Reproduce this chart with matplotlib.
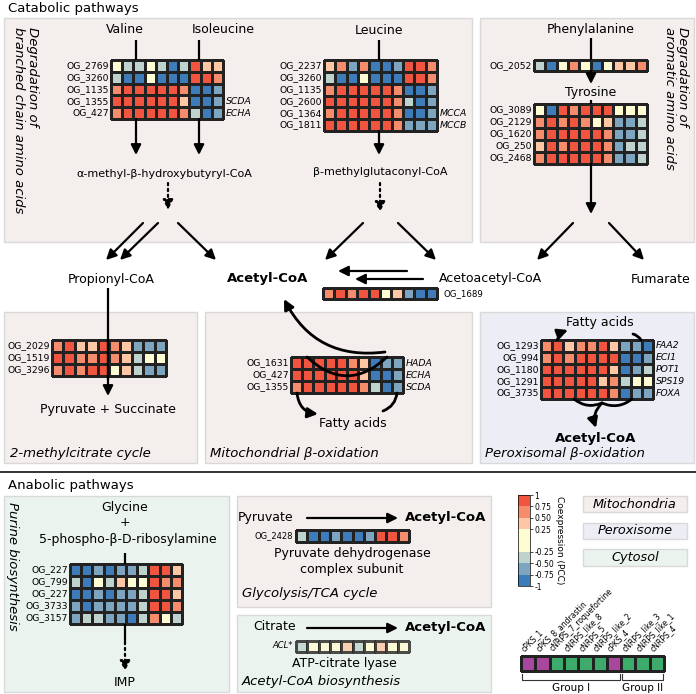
import numpy as np
import matplotlib
matplotlib.use('Agg')
import matplotlib.pyplot as plt
from matplotlib.colors import ListedColormap, BoundaryNorm
from matplotlib.patches import Rectangle
import matplotlib.colorbar as mcolorbar

# coexpression colour classes (PCC bins)
pcc_bounds = [-1, -0.75, -0.5, -0.25, 0.25, 0.5, 0.75, 1]
pcc_colors = ['#3d7cb8', '#7da5c0', '#bed3cd', '#fefcd2', '#fdc6a4', '#f58c6c', '#f2553f']
pcc_ticklabels = ['-1', '-0.75', '-0.50', '-0.25', '0.25', '0.50', '0.75', '1']

# branched chain amino acids
valine_rows = ['OG_2769', 'OG_3260', 'OG_1135', 'OG_1355', 'OG_427']
valine_pcc = [
    [0.0, -0.4, -0.4, 0.0, -0.4, -0.85, -0.4, 0.85, 0.45, 0.4],
    [-0.4, -0.85, -0.85, 0.0, -0.85, -0.85, -0.85, 0.85, 0.85, 0.6],
    [0.6, 0.85, 0.85, 0.85, 0.85, 0.85, 0.6, -0.85, -0.85, -0.6],
    [0.85, 0.85, 0.85, 0.85, 0.85, 0.85, 0.4, -0.85, -0.85, -0.6],
    [0.6, 0.85, 0.85, 0.85, 0.85, 0.85, 0.6, -0.4, -0.85, -0.6],
]
leucine_rows = ['OG_2237', 'OG_3260', 'OG_1135', 'OG_2600', 'OG_1364', 'OG_1811']
leucine_pcc = [
    [0.4, 0.6, -0.6, 0.6, -0.85, -0.85, -0.6, 0.85, 0.85, 0.6],
    [-0.4, -0.85, -0.85, 0.0, -0.85, -0.85, -0.85, 0.85, 0.85, 0.6],
    [0.6, 0.85, 0.85, 0.85, 0.85, 0.85, 0.6, -0.85, -0.85, -0.6],
    [0.85, 0.85, 0.85, 0.85, 0.85, 0.85, 0.6, -0.4, -0.85, -0.6],
    [0.6, 0.85, 0.85, 0.85, 0.85, 0.85, 0.6, -0.85, -0.85, -0.6],
    [0.85, 0.85, 0.85, 0.85, 0.85, 0.85, 0.6, -0.6, -0.6, -0.6],
]
# aromatic amino acids
phe_rows = ['OG_2052']
phe_pcc = [[-0.4, -0.85, 0.0, 0.6, 0.0, -0.85, 0.0, 0.4, 0.4, 0.6]]
tyr_rows = ['OG_3089', 'OG_2129', 'OG_1620', 'OG_250', 'OG_2468']
tyr_pcc = [
    [0.0, -0.85, 0.85, 0.6, 0.85, 0.85, 0.85, 0.0, 0.0, 0.0],
    [0.6, 0.85, 0.6, 0.85, 0.6, 0.0, 0.4, -0.6, -0.6, -0.4],
    [0.6, 0.85, 0.85, 0.85, 0.85, 0.85, 0.6, -0.6, -0.6, -0.4],
    [0.4, 0.85, 0.6, 0.85, 0.85, 0.85, 0.6, -0.6, -0.4, -0.4],
    [0.6, 0.85, 0.85, 0.85, 0.85, 0.85, 0.6, -0.6, -0.6, -0.4],
]
thiolase_pcc = [[0.6, 0.85, 0.6, 0.85, 0.85, 0.0, 0.4, -0.6, -0.85, -0.85]]
mcc_rows = ['OG_2029', 'OG_1519', 'OG_3296']
mcc_pcc = [
    [0.6, 0.85, 0.4, 0.4, 0.85, 0.6, 0.4, -0.6, -0.6, -0.6],
    [0.85, 0.85, 0.6, 0.6, 0.85, 0.6, 0.4, -0.4, 0.0, 0.0],
    [0.6, 0.85, 0.6, 0.85, 0.85, 0.0, 0.4, -0.4, -0.6, -0.6],
]
mito_rows = ['OG_1631', 'OG_427', 'OG_1355']
mito_genes = ['HADA', 'ECHA', 'SCDA']
mito_pcc = [
    [0.85, 0.85, 0.85, 0.85, 0.85, 0.6, 0.4, -0.85, -0.6, -0.6],
    [0.85, 0.85, 0.85, 0.85, 0.85, 0.85, 0.4, -0.85, -0.85, -0.6],
    [0.6, 0.85, 0.85, 0.85, 0.85, 0.85, 0.6, -0.4, -0.85, -0.6],
]
perox_rows = ['OG_1293', 'OG_994', 'OG_1180', 'OG_1291', 'OG_3735']
perox_genes = ['FAA2', 'ECI1', 'POT1', 'SPS19', 'FOXA']
perox_pcc = [
    [0.6, 0.85, 0.4, 0.6, 0.6, 0.85, 0.4, -0.6, -0.6, -0.85],
    [0.6, 0.85, 0.6, 0.85, 0.85, 0.85, 0.85, -0.85, -0.85, -0.6],
    [0.85, 0.85, 0.85, 0.85, 0.85, 0.85, 0.4, -0.85, -0.6, -0.4],
    [0.85, 0.85, 0.85, 0.85, 0.85, 0.4, 0.6, -0.4, 0.0, 0.0],
    [0.85, 0.85, 0.85, 0.85, 0.85, 0.85, 0.6, -0.85, -0.6, -0.6],
]
# anabolic
purine_rows = ['OG_227', 'OG_799', 'OG_227', 'OG_3733', 'OG_3157']
purine_pcc = [
    [-0.85, -0.85, -0.6, -0.85, -0.6, -0.6, -0.4, 0.85, 0.85, 0.4],
    [-0.4, -0.85, 0.0, -0.4, 0.4, 0.0, 0.0, 0.85, 0.6, 0.6],
    [-0.85, -0.85, -0.6, -0.85, -0.6, -0.6, -0.4, 0.85, 0.85, 0.4],
    [-0.6, -0.85, -0.6, -0.6, -0.6, -0.6, -0.4, 0.85, 0.85, 0.6],
    [-0.6, -0.4, -0.4, -0.6, -0.6, -0.85, -0.4, 0.6, 0.0, -0.4],
]
pdh_pcc = [[-0.4, -0.85, -0.85, -0.6, -0.85, -0.85, -0.6, 0.85, 0.85, 0.6]]
acl_pcc = [[-0.4, 0.0, 0.0, 0.0, 0.4, -0.4, 0.0, 0.4, 0.0, 0.0]]

# gene clusters
clusters = ['cPKS_1', 'cPKS_8_andrastin', 'cNRPS_7_roquefortine', 'cNRPS_like_8', 'cNRPS_5',
            'cNRPS_like_2', 'cPKS_4', 'cNRPS_like_3', 'cNRPS_like_1', 'cNRPS_4']
cluster_is_pks = [1, 1, 0, 0, 0, 0, 1, 0, 0, 0]
groups = ['Group I', 'Group II']
group_sizes = [7, 3]

MITO = '#f4eeed'
PEROX = '#ecedf5'
CYTO = '#ebf3ee'

cmap = ListedColormap(pcc_colors)
norm = BoundaryNorm(pcc_bounds, cmap.N)

fig = plt.figure(figsize=(6.96, 6.94), dpi=100)
ax = fig.add_axes([0, 0, 1, 1])
ax.set_xlim(0, 696)
ax.set_ylim(694, 0)
ax.axis('off')


def box(x0, y0, x1, y1, fc):
    ax.add_patch(Rectangle((x0, y0), x1 - x0, y1 - y0, fc=fc, ec='#d9d9d9', lw=1, zorder=0))


def heat(vals, x0, y0, x1, y1, rows=None, genes=None, fs=6.7, alpha=1.0):
    vals = np.asarray(vals)
    nr, nc = vals.shape
    xe = np.linspace(x0, x1, nc + 1)
    ye = np.linspace(y0, y1, nr + 1)
    ax.pcolormesh(xe, ye, vals, cmap=cmap, norm=norm, edgecolors='#222222',
                  linewidth=0.8, alpha=alpha, zorder=3)
    yc = (ye[:-1] + ye[1:]) / 2
    if rows:
        for y, lab in zip(yc, rows):
            ax.text(x0 - 2, y, lab, ha='right', va='center', fontsize=fs)
    if genes:
        for i, g in genes.items():
            ax.text(x1 + 3, yc[i], g, ha='left', va='center', fontsize=fs, style='italic')


def arrow(x0, y0, x1, y1, ls='-', rad=0.0, head=True, lw=1.6):
    style = '-|>,head_length=0.6,head_width=0.3' if head else '-'
    ax.annotate('', xy=(x1, y1), xytext=(x0, y0),
                arrowprops=dict(arrowstyle=style, color='black', lw=lw, linestyle=ls,
                                shrinkA=0, shrinkB=0, mutation_scale=10,
                                connectionstyle='arc3,rad=%s' % rad), zorder=4)


def line(xs, ys, lw=1.6, ls='-'):
    ax.plot(xs, ys, color='black', lw=lw, ls=ls, zorder=4, solid_capstyle='butt')


# ---- catabolic part ----
ax.text(8, 8, 'Catabolic pathways', fontsize=9.5, va='center')
box(4, 18, 472, 242, MITO)
box(480, 18, 694, 242, MITO)
box(4, 312, 197, 463, MITO)
box(205, 312, 472, 463, MITO)
box(480, 312, 694, 463, PEROX)

ax.text(25, 27, 'Degradation of\nbranched chain amino acids', rotation=270, style='italic',
        fontsize=9.5, ha='center', va='top', multialignment='left', linespacing=1.1)
ax.text(676, 27, 'Degradation of\naromatic amino acids', rotation=270, style='italic',
        fontsize=9.5, ha='center', va='top', multialignment='left', linespacing=1.1)

ax.text(125, 29, 'Valine', fontsize=9, ha='center', va='center')
ax.text(223, 29, 'Isoleucine', fontsize=9, ha='center', va='center')
ax.text(379, 30, 'Leucine', fontsize=9, ha='center', va='center')
line([136, 136], [40, 60])
line([199, 199], [40, 60])
line([379, 379], [40, 60])
heat(valine_pcc, 111, 60, 223, 119, valine_rows, {3: 'SCDA', 4: 'ECHA'})
heat(leucine_pcc, 324, 60, 437, 131, leucine_rows, {4: 'MCCA', 5: 'MCCB'})
arrow(136, 119, 136, 155)
arrow(199, 119, 199, 155)
arrow(379, 131, 379, 155)
ax.text(164, 174, 'α-methyl-β-hydroxybutyryl-CoA', fontsize=8, ha='center', va='center')
ax.text(380, 172, 'β-methylglutaconyl-CoA', fontsize=8, ha='center', va='center')
arrow(168, 183, 168, 210, ls=':')
arrow(380, 183, 380, 212, ls=':')
arrow(143, 223, 106, 260)
arrow(158, 223, 120, 260)
arrow(178, 223, 216, 260)
arrow(363, 223, 325, 260)
arrow(398, 223, 436, 260)

ax.text(591, 29, 'Phenylalanine', fontsize=9, ha='center', va='center')
line([591, 591], [38, 60])
heat(phe_pcc, 534, 60, 647, 71, phe_rows)
arrow(591, 71, 591, 84)
ax.text(591, 92, 'Tyrosine', fontsize=9, ha='center', va='center')
line([591, 591], [100, 104])
heat(tyr_pcc, 534, 104, 647, 164, tyr_rows)
arrow(591, 164, 591, 214)
arrow(573, 223, 537, 260)
arrow(609, 223, 644, 260)

ax.text(111, 279, 'Propionyl-CoA', fontsize=9, ha='center', va='center')
ax.text(268, 278, 'Acetyl-CoA', fontsize=9.5, ha='center', va='center', weight='bold')
ax.text(439, 278, 'Acetoacetyl-CoA', fontsize=9, ha='left', va='center')
ax.text(661, 279, 'Fumarate', fontsize=9, ha='center', va='center')
arrow(407, 271, 338, 271)
arrow(423, 279, 355, 279)
heat(thiolase_pcc, 323, 288, 437, 299)
ax.text(443, 294, 'OG_1689', fontsize=6.2, ha='left', va='center')

# 2-methylcitrate cycle
line([108, 108], [288, 380])
heat(mcc_pcc, 52, 340, 166, 376, mcc_rows)
line([108, 108], [340, 376])
arrow(108, 376, 108, 396)
ax.text(108, 409, 'Pyruvate + Succinate', fontsize=9, ha='center', va='center')
ax.text(10, 453, '2-methylcitrate cycle', fontsize=9.5, style='italic', va='center')

# mitochondrial beta-oxidation
heat(mito_pcc, 291, 357, 403, 393, mito_rows, dict(enumerate(mito_genes)))
arrow(307, 357, 387, 357, rad=0.47, head=False, lw=2)
arrow(385, 352, 284, 299, rad=-0.35, lw=2)
arrow(297, 393, 318, 414, rad=0.4, lw=2)
arrow(397, 393, 383, 411, rad=-0.3, head=False, lw=2)
ax.text(353, 423, 'Fatty acids', fontsize=9, ha='center', va='center')
ax.text(210, 453, 'Mitochondrial β-oxidation', fontsize=9.5, style='italic', va='center')

# peroxisomal beta-oxidation
ax.text(600, 322, 'Fatty acids', fontsize=9, ha='center', va='center')
heat(perox_pcc, 541, 340, 653, 399, perox_rows, dict(enumerate(perox_genes)))
arrow(557, 340, 568, 330, rad=-0.2, lw=2)
arrow(633, 334, 641, 340, rad=-0.2, head=False, lw=2)
arrow(574, 399, 602, 403, rad=0.3, head=False, lw=2)
arrow(632, 399, 602, 403, rad=-0.3, head=False, lw=2)
arrow(602, 403, 596, 428, rad=0.3, lw=2)
ax.text(596, 438, 'Acetyl-CoA', fontsize=9.5, ha='center', va='center', weight='bold')
ax.text(485, 453, 'Peroxisomal β-oxidation', fontsize=9.5, style='italic', va='center')

ax.plot([0, 696], [472, 472], color='#111111', lw=1.2)

# ---- anabolic part ----
ax.text(8, 485, 'Anabolic pathways', fontsize=9.5, va='center')
box(4, 496, 229, 692, CYTO)
box(237, 496, 491, 607, MITO)
box(237, 615, 491, 692, CYTO)
ax.text(12, 502, 'Purine biosynthesis', rotation=270, style='italic', fontsize=9.5,
        ha='center', va='top')
ax.text(125, 507, 'Glycine', fontsize=9, ha='center', va='center')
ax.text(125, 523, '+', fontsize=9, ha='center', va='center')
ax.text(128, 540, '5-phospho-β-D-ribosylamine', fontsize=9, ha='center', va='center')
line([125, 125], [553, 564])
heat(purine_pcc, 70, 564, 182, 624, purine_rows)
line([125, 125], [624, 642])
arrow(125, 642, 125, 671, ls=':')
ax.text(125, 682, 'IMP', fontsize=9, ha='center', va='center')

ax.text(238, 517, 'Pyruvate', fontsize=9, ha='left', va='center')
arrow(307, 518, 398, 518)
ax.text(405, 517, 'Acetyl-CoA', fontsize=9.5, ha='left', va='center', weight='bold')
heat(pdh_pcc, 296, 530, 409, 542)
ax.text(293, 536, 'OG_2428', fontsize=6, ha='right', va='center')
ax.text(352, 562, 'Pyruvate dehydrogenase\ncomplex subunit', fontsize=9, ha='center',
        va='center', linespacing=1.3)
ax.text(242, 594, 'Glycolysis/TCA cycle', fontsize=9.5, style='italic', va='center')

ax.text(253, 627, 'Citrate', fontsize=9, ha='left', va='center')
arrow(307, 628, 398, 628)
ax.text(405, 627, 'Acetyl-CoA', fontsize=9.5, ha='left', va='center', weight='bold')
heat(acl_pcc, 296, 641, 409, 652, alpha=0.8)
ax.text(293, 646, 'ACL*', fontsize=6, ha='right', va='center', style='italic')
ax.text(344, 663, 'ATP-citrate lyase', fontsize=9, ha='center', va='center')
ax.text(242, 681, 'Acetyl-CoA biosynthesis', fontsize=9.5, style='italic', va='center')

# compartment legend
for (y0, y1, lab, fc) in [(496, 512, 'Mitochondria', MITO), (523, 539, 'Peroxisome', PEROX),
                          (549, 566, 'Cytosol', CYTO)]:
    box(583, y0, 687, y1, fc)
    ax.text(635, (y0 + y1) / 2, lab, fontsize=9.3, style='italic', ha='center', va='center')

# gene cluster strip
xe = np.linspace(521, 664, len(clusters) + 1)
ax.pcolormesh(xe, [656, 671], np.array([cluster_is_pks]),
              cmap=ListedColormap(['#3dab6b', '#a8479c']), vmin=0, vmax=1,
              edgecolors='#222222', linewidth=0.8, zorder=3)
for i, name in enumerate(clusters):
    ax.text((xe[i] + xe[i + 1]) / 2 - 2, 653, name, rotation=45, fontsize=5.5,
            ha='left', va='bottom', rotation_mode='anchor')
start = 0
for g, n in zip(groups, group_sizes):
    xa, xb = xe[start] + 1, xe[start + n] - 1
    ax.plot([xa, xa, xb, xb], [674, 680, 680, 674], color='#333333', lw=0.8)
    ax.text((xa + xb) / 2, 688, g, fontsize=7.5, ha='center', va='center')
    start += n

# colourbar
cax = fig.add_axes([518 / 696, 1 - 586 / 694, 12 / 696, 91 / 694])
cb = mcolorbar.ColorbarBase(cax, cmap=cmap, norm=norm, boundaries=pcc_bounds,
                            ticks=pcc_bounds, spacing='proportional')
cb.ax.set_yticklabels(pcc_ticklabels)
cb.ax.tick_params(labelsize=5.5, length=2, width=0.5, pad=1)
cb.outline.set_linewidth(0.5)
cb.set_label('Coexpression (PCC)', rotation=270, fontsize=6.5, labelpad=7)

fig.savefig('out.png', dpi=100)
